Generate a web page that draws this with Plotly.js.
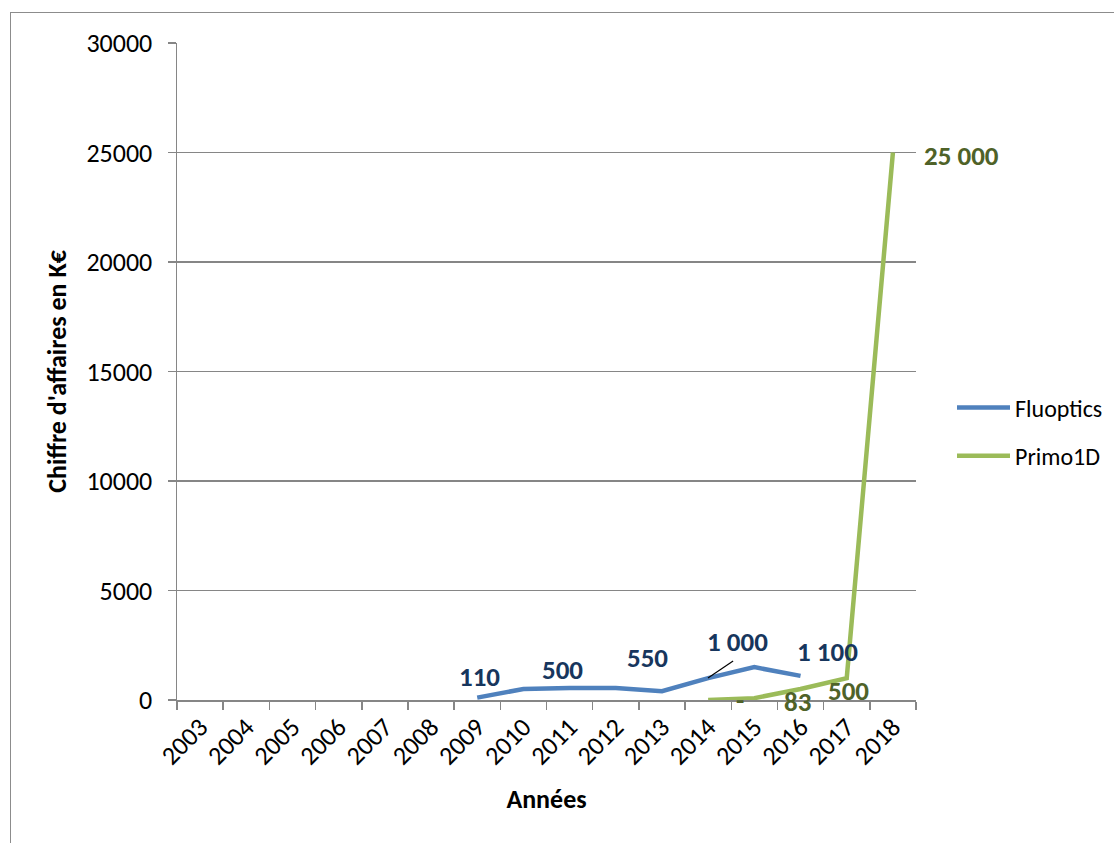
<!DOCTYPE html>
<html>
<head>
<meta charset="utf-8">
<script src="https://cdn.plot.ly/plotly-3.0.1.min.js"></script>
<style>
  html, body { margin: 0; padding: 0; background: #ffffff; }
  #frame { position: absolute; left: 10px; top: 12px; width: 1200px; height: 900px;
           border-left: 1.5px solid #8c8c8c; border-top: 1.5px solid #8c8c8c; }
  #chart { position: absolute; left: 0; top: 0; width: 1114px; height: 843px; }
</style>
</head>
<body>
<div id="frame"></div>
<div id="chart"></div>
<script>
// ---- data ----
const years = ['2003','2004','2005','2006','2007','2008','2009','2010','2011','2012','2013','2014','2015','2016','2017','2018'];
const fluoptics = [null,null,null,null,null,null,110,500,550,550,400,1000,1500,1100,null,null];
const primo1d   = [null,null,null,null,null,null,null,null,null,null,null,0,83,500,1000,25000];
const yTicks = [0,5000,10000,15000,20000,25000,30000];

// data labels as they appear in the picture
const fluoLabels  = ['110','500','550','1 000','1 100'];
const primoLabels = ['-','83','500','25 000'];

// ---- layout / style ----
const FONT = 'Carlito, Lato, "Liberation Sans", sans-serif';
const blue = '#4F81BD', green = '#9BBB59';
const blueLbl = '#17365D', greenLbl = '#4F6228';
const gridCol = '#868686';

// plot-area geometry (pixels) used only to place labels
const PL = 177, PR = 916, PT = 43, PB = 700;
const px = X => (X - PL) / (PR - PL);
const py = Y => (PB - Y) / (PB - PT);

// label placement (pixel centres) — placement only
const fluoPos  = [[479,676],[562,669],[647,657],[737,641],[827,651]];
const primoPos = [[740,699,'center'],[797,701,'center'],[848,690,'center'],[922,155,'left']];

const annotations = [];
fluoLabels.forEach((t,i)=>annotations.push({
  x: px(fluoPos[i][0]), y: py(fluoPos[i][1]), xref:'paper', yref:'paper', text:'<b>'+t+'</b>',
  xanchor:'center', yanchor:'middle',
  showarrow:false, font:{family:FONT, size:27, color:blueLbl}
}));
primoLabels.forEach((t,i)=>annotations.push({
  x: px(primoPos[i][0]), y: py(primoPos[i][1]), xref:'paper', yref:'paper', text:'<b>'+t+'</b>',
  xanchor: primoPos[i][2], yanchor:'middle', showarrow:false, font:{family:FONT, size:27, color:greenLbl}
}));

const traces = [
  {x: years, y: fluoptics, name:'Fluoptics', type:'scatter', mode:'lines', legendgroup:'a',
   line:{color:blue, width:4.5}, connectgaps:false},
  {x: years, y: primo1d, name:'Primo1D', type:'scatter', mode:'lines', legendgroup:'b',
   line:{color:green, width:4.5}, connectgaps:false}
];

const layout = {
  width:1114, height:843,
  margin:{l:177, r:198, t:43, b:143, autoexpand:false},
  paper_bgcolor:'rgba(0,0,0,0)', plot_bgcolor:'rgba(0,0,0,0)',
  font:{family:FONT, size:26, color:'#000'},
  showlegend:true,
  legend:{x:px(952), y:py(432), xanchor:'left', yanchor:'middle', traceorder:'grouped',
          font:{family:FONT, size:24, color:'#000'}, tracegroupgap:14, itemwidth:53,
          bgcolor:'rgba(0,0,0,0)'},
  xaxis:{type:'category', range:[-0.5,15.5], tickson:'boundaries',
         ticks:'outside', ticklen:8, tickcolor:gridCol, tickwidth:1.5,
         showline:true, linecolor:gridCol, linewidth:1.5, showgrid:false, zeroline:false,
         tickangle:-45, tickfont:{family:FONT, size:26},
         title:{text:'<b>Années</b>', font:{family:FONT, size:26}, standoff:19}},
  yaxis:{range:[0,30000], tickvals:yTicks, ticktext:yTicks.map(String),
         ticks:'outside', ticklen:8, tickcolor:gridCol, tickwidth:1.5,
         showline:true, linecolor:gridCol, linewidth:1.5,
         showgrid:true, gridcolor:gridCol, gridwidth:1.2, zeroline:false,
         ticklabelstandoff:10, tickfont:{family:FONT, size:26},
         title:{text:"<b>Chiffre d'affaires en K€</b>", font:{family:FONT, size:26}, standoff:12}},
  annotations: annotations,
  shapes:[{type:'line', xref:'x', yref:'y', x0:10.996, y0:1005, x1:11.54, y1:1781,
           line:{color:'#000', width:1.2}}]
};

Plotly.newPlot('chart', traces, layout, {displayModeBar:false, staticPlot:true});
</script>
</body>
</html>
